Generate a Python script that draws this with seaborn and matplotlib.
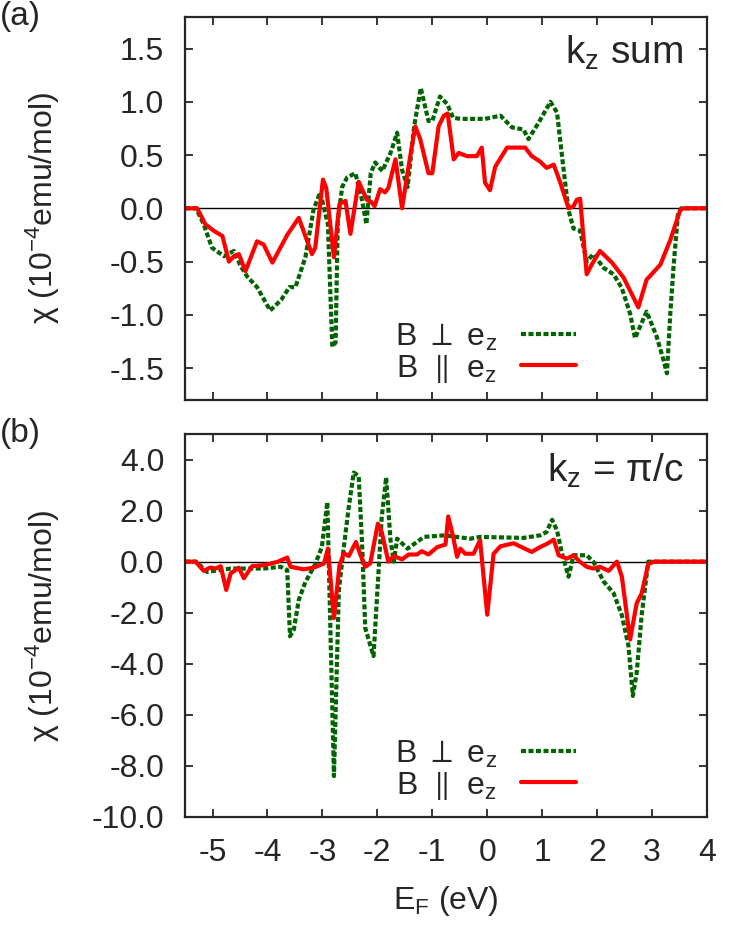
import numpy as np
import pandas as pd
import matplotlib
matplotlib.use("Agg")
import matplotlib.pyplot as plt
import seaborn as sns

# ---- data ----
# (a) kz sum, B perp ez
e_perp_a = [-5.5, -5.3, -5.16, -5.01, -4.79, -4.61, -4.49, -4.37, -4.19, -3.95, -3.75, -3.6,
            -3.49, -3.31, -3.16, -3.04, -2.9, -2.82, -2.76, -2.72, -2.64, -2.55, -2.40, -2.28,
            -2.20, -2.12, -2.04, -1.91, -1.76, -1.64, -1.55, -1.45, -1.33, -1.21, -1.07, -1.0,
            -0.86, -0.73, -0.62, -0.49, -0.04, 0.24, 0.45, 0.66, 0.75, 0.93, 1.15, 1.27, 1.39,
            1.48, 1.57, 1.69, 1.81, 1.93, 2.12, 2.30, 2.45, 2.60, 2.69, 2.90, 3.08, 3.2, 3.27,
            3.33, 3.39, 3.47, 3.53, 4.0]
chi_perp_a = [0, 0, -0.15, -0.37, -0.45, -0.40, -0.54, -0.64, -0.74, -0.96, -0.86, -0.74,
              -0.74, -0.46, -0.01, 0.15, -0.15, -1.30, -1.26, -0.12, 0.20, 0.29, 0.33, 0.08,
              -0.15, 0.33, 0.43, 0.35, 0.52, 0.71, 0.36, 0.20, 0.77, 1.13, 0.82, 0.82,
              1.05, 0.98, 0.85, 0.84, 0.84, 0.87, 0.76, 0.74, 0.65, 0.80, 1.00, 0.90, 0.36,
              -0.02, -0.19, -0.21, -0.50, -0.43, -0.56, -0.62, -0.75, -0.99, -1.22, -0.97, -1.20, -1.41, -1.55,
              -1.0, -0.55, -0.06, 0, 0]

# (a) kz sum, B par ez
e_par_a = [-5.5, -5.28, -5.13, -4.98, -4.82, -4.70, -4.61, -4.52, -4.40, -4.19, -4.07, -3.91,
           -3.64, -3.43, -3.31, -3.19, -3.13, -2.99, -2.93, -2.79, -2.69, -2.58, -2.49, -2.34,
           -2.19, -2.11, -2.05, -1.95, -1.86, -1.80, -1.67, -1.55, -1.43, -1.31, -1.22, -1.07,
           -1.00, -0.885, -0.79, -0.72, -0.61, -0.52, -0.37, -0.19, -0.10, -0.04, 0.05, 0.145,
           0.36, 0.69, 0.81, 0.96, 1.08, 1.21, 1.33, 1.48, 1.57, 1.63, 1.69, 1.81, 1.90, 2.05,
           2.27, 2.48, 2.75, 2.90, 3.15, 3.33, 3.51, 3.57, 4.0]
chi_par_a = [0, 0, -0.15, -0.21, -0.26, -0.50, -0.45, -0.43, -0.59, -0.31, -0.34, -0.51,
             -0.25, -0.09, -0.26, -0.43, -0.37, 0.27, 0.19, -0.46, 0.04, 0.07, -0.24, 0.25,
             0.08, 0.06, 0.02, 0.18, 0.15, 0.19, 0.46, 0.0, 0.40, 0.77, 0.65, 0.33,
             0.33, 0.77, 0.87, 0.89, 0.46, 0.52, 0.49, 0.49, 0.57, 0.24, 0.17, 0.39,
             0.57, 0.57, 0.49, 0.44, 0.38, 0.41, 0.24, 0.0, 0.02, 0.08, 0.09, -0.62, -0.53, -0.40,
             -0.51, -0.65, -0.93, -0.67, -0.53, -0.30, -0.02, 0, 0]

# (b) kz = pi/c, B perp ez
e_perp_b = [-5.5, -5.3, -5.10, -4.67, -4.07, -3.76, -3.64, -3.59, -3.52, -3.43, -3.31, -3.13,
            -3.01, -2.91, -2.79, -2.70, -2.61, -2.52, -2.43, -2.34, -2.28, -2.22, -2.07, -1.98,
            -1.92, -1.84, -1.76, -1.70, -1.64, -1.45, -1.15, -0.78, -0.31, -0.13, 0.66, 0.96,
            1.08, 1.18, 1.27, 1.36, 1.48, 1.57, 1.81, 1.93, 2.12, 2.30, 2.45, 2.57, 2.65, 2.72,
            2.81, 2.93, 4.0]
chi_perp_b = [0, 0, -0.40, -0.27, -0.27, -0.20, -0.33, -2.92, -2.66, -1.50, -0.80, -0.10,
              0.57, 2.33, -8.4, -1.10, 0.57, 2.14, 3.49, 3.36, 0.83, -2.60, -3.70, -0.45,
              1.74, 3.30, 0.83, 0.0, 0.90, 0.51, 0.97, 1.03, 0.90, 0.97, 0.93, 1.03,
              1.16, 1.64, 1.22, 0.32, -0.59, 0.25, 0.25, 0.0, -0.78, -1.24, -2.1, -3.3, -5.26, -4.35,
              -2.1, 0.0, 0.0]

# (b) kz = pi/c, B par ez
e_par_b = [-5.5, -5.31, -5.16, -5.04, -4.95, -4.85, -4.75, -4.67, -4.52, -4.43, -4.28, -4.07,
           -3.82, -3.64, -3.58, -3.34, -3.15, -2.97, -2.90, -2.79, -2.69, -2.61, -2.52, -2.39,
           -2.31, -2.22, -2.13, -1.99, -1.92, -1.80, -1.70, -1.55, -1.43, -1.28, -1.19, -1.07,
           -0.91, -0.76, -0.71, -0.62, -0.55, -0.49, -0.40, -0.25, -0.13, 0.0, 0.115, 0.24,
           0.48, 0.81, 0.96, 1.08, 1.21, 1.30, 1.45, 1.57, 1.69, 1.81, 1.93, 2.05, 2.21, 2.36,
           2.45, 2.60, 2.72, 2.81, 2.93, 3.03, 4.0]
chi_par_b = [0, 0, -0.36, -0.23, -0.27, -0.18, -1.11, -0.46, -0.24, -0.65, -0.18, -0.14,
             -0.01, 0.16, -0.20, -0.30, -0.23, -0.07, 0.51, -2.21, -0.15, 0.33, 0.22, 0.77,
             0.28, -0.20, -0.07, 1.49, 1.16, 0.0, 0.22, 0.09, 0.28, 0.28, 0.41, 0.28,
             0.57, 0.67, 1.77, 0.97, 0.19, 0.51, 0.31, 0.31, 0.84, -2.08, 0.31, 0.60,
             0.72, 0.38, 0.57, 0.69, 0.86, 0.25, 0.12, 0.25, -0.01, -0.20, -0.27, -0.20, -0.36, 0.0,
             -0.59, -3.05, -1.63, -1.24, -0.1, 0.0, 0.0]

x_ticks = [-5, -4, -3, -2, -1, 0, 1, 2, 3, 4]
y_ticks_a = [-1.5, -1.0, -0.5, 0.0, 0.5, 1.0, 1.5]
y_ticks_b = [-10, -8, -6, -4, -2, 0, 2, 4]

sns.set_style("ticks")
plt.rcParams['font.family'] = ['Liberation Sans', 'DejaVu Sans']
plt.rcParams['mathtext.fontset'] = 'custom'
plt.rcParams['mathtext.rm'] = 'Liberation Sans'
plt.rcParams['mathtext.it'] = 'Liberation Sans:italic'
plt.rcParams['mathtext.fallback'] = 'stixsans'
plt.rcParams['font.size'] = 23

GREEN = "#006400"
RED = "#ff0000"
lbl_perp = "B $\\perp$ e$\\mathrm{_z}$"
lbl_par = "B $\\hspace{0.08}\\parallel\\hspace{0.08}$ e$\\mathrm{_z}$"

fig = plt.figure(figsize=(7.47, 9.40), dpi=100)
ax_a = fig.add_axes([0.2477, 0.5745, 0.6988, 0.4078])
ax_b = fig.add_axes([0.2477, 0.1309, 0.6988, 0.4074])


def draw_panel(ax, e_perp, chi_perp, e_par, chi_par):
    ax.axhline(0, color="black", lw=1.0, zorder=1)
    sns.lineplot(x=e_perp, y=chi_perp, ax=ax, color=GREEN, lw=3.0, sort=False,
                 estimator=None, label=lbl_perp, linestyle=(0, (1.2, 0.6)))
    sns.lineplot(x=e_par, y=chi_par, ax=ax, color=RED, lw=3.0, sort=False,
                 estimator=None, label=lbl_par)
    ax.set_xlim(-5.5, 4)
    ax.set_xticks(x_ticks)
    ax.tick_params(direction="in", top=True, right=True, length=6, width=1.3,
                   labelsize=23, pad=15)
    for s in ax.spines.values():
        s.set_linewidth(1.6)
    ax.set_ylabel("χ (10$\\mathrm{^{-4}}$emu/mol)", fontsize=23)
    ax.yaxis.set_label_coords(-0.235, 0.5)
    ax.legend(loc="lower right", bbox_to_anchor=(0.805, -0.035), frameon=False,
              markerfirst=False, handlelength=1.75, labelspacing=0.0, fontsize=23,
              handletextpad=0.75)


draw_panel(ax_a, e_perp_a, chi_perp_a, e_par_a, chi_par_a)
ax_a.set_ylim(-1.8, 1.8)
ax_a.set_yticks(y_ticks_a)
ax_a.set_yticklabels([f"{v:.1f}" for v in y_ticks_a])
ax_a.tick_params(labelbottom=False)
ax_a.text(0.955, 0.955, "k$\\mathrm{_z}$ sum", transform=ax_a.transAxes,
          ha="right", va="top", fontsize=28)

draw_panel(ax_b, e_perp_b, chi_perp_b, e_par_b, chi_par_b)
ax_b.set_ylim(-10, 5)
ax_b.set_yticks(y_ticks_b)
ax_b.set_yticklabels([f"{v:.1f}" for v in y_ticks_b])
ax_b.set_xticklabels([str(v) for v in x_ticks])
ax_b.set_xlabel("E$\\mathrm{_F}$ (eV)", fontsize=23, labelpad=12)
ax_b.text(0.955, 0.955, "k$\\mathrm{_z}$ = π/c", transform=ax_b.transAxes,
          ha="right", va="top", fontsize=28)

fig.text(0.0, 0.999, "(a)", ha="left", va="top", fontsize=24)
fig.text(0.0, 0.555, "(b)", ha="left", va="top", fontsize=24)

fig.savefig("out.png", dpi=100)
